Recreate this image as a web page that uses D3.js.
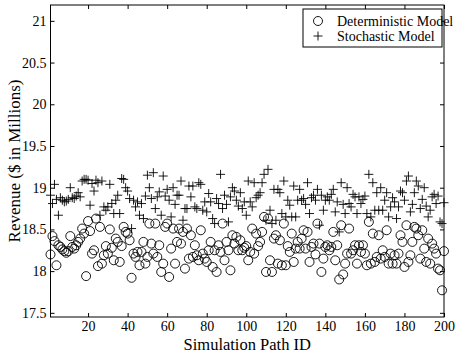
<!DOCTYPE html>
<html>
<head>
<meta charset="utf-8">
<script src="https://cdn.jsdelivr.net/npm/d3@7"></script>
<style>
  body { margin: 0; background: #fff; }
  svg text { font-family: "Liberation Serif", "Times New Roman", Times, "DejaVu Serif", serif; fill: #000; }
</style>
</head>
<body>
<svg id="chart" width="456" height="354"></svg>
<script>
// revenue per simulation path, $ in millions (path ID = index + 1)
const deterministic = [
  18.20, 18.42, 18.36, 18.07, 18.31, 18.29, 18.26, 18.24, 18.22, 18.24,
  18.42, 18.29, 18.27, 18.31, 18.35, 18.39, 18.51, 18.45, 17.94, 18.60,
  18.48, 18.21, 18.25, 18.63, 18.06, 18.53, 18.09, 18.19, 18.30, 18.21,
  18.50, 18.28, 18.13, 18.39, 18.35, 18.11, 18.30, 18.53, 18.47, 18.45,
  18.37, 17.92, 18.21, 18.17, 18.23, 18.07, 18.23, 18.35, 18.09, 18.17,
  18.57, 18.33, 18.21, 18.57, 18.17, 18.31, 17.99, 18.09, 18.53, 18.57,
  17.93, 18.27, 18.51, 18.09, 18.35, 18.51, 18.33, 18.47, 18.03, 18.51,
  18.15, 18.43, 18.17, 18.31, 18.19, 18.13, 18.49, 18.21, 18.15, 18.11,
  18.25, 18.35, 18.05, 18.25, 17.99, 18.31, 18.23, 18.57, 18.13, 18.35,
  18.25, 18.01, 18.43, 18.33, 18.41, 18.25, 18.37, 18.25, 18.28, 18.30,
  18.13, 18.23, 18.51, 18.21, 18.45, 18.30, 18.35, 18.47, 18.65, 17.99,
  18.63, 18.13, 17.99, 18.39, 18.43, 18.09, 18.37, 18.07, 18.57, 18.07,
  18.30, 18.23, 18.45, 18.11, 18.27, 18.35, 18.27, 18.39, 18.49, 18.27,
  18.47, 18.11, 18.29, 18.33, 18.20, 18.57, 18.33, 17.99, 18.15, 18.29,
  18.31, 18.25, 18.29, 18.47, 18.13, 18.31, 17.90, 18.55, 17.96, 18.09,
  18.21, 18.51, 18.21, 18.25, 18.31, 18.09, 18.31, 18.23, 18.31, 18.21,
  18.07, 18.59, 18.09, 18.45, 18.11, 18.17, 18.43, 18.15, 18.25, 18.17,
  18.49, 18.09, 18.21, 18.09, 18.19, 18.09, 18.21, 18.43, 18.35, 18.05,
  18.55, 18.11, 18.19, 18.35, 18.53, 18.51, 18.43, 18.15, 18.49, 18.27,
  18.11, 18.39, 18.09, 18.33, 18.27, 18.21, 18.03, 18.01, 17.77, 18.24
];

const stochastic = [
  18.91, 18.81, 19.04, 18.86, 18.67, 18.88, 18.85, 18.83, 18.84, 18.86,
  19.00, 18.88, 18.87, 18.90, 18.94, 18.89, 19.08, 19.10, 19.10, 19.09,
  18.79, 19.05, 18.96, 19.09, 19.06, 18.67, 19.08, 18.77, 18.73, 18.77,
  19.04, 18.81, 18.69, 18.85, 18.91, 18.69, 19.11, 19.10, 19.00, 18.96,
  18.87, 18.51, 18.85, 18.77, 18.83, 18.67, 18.81, 18.63, 18.90, 19.15,
  19.00, 18.87, 19.18, 18.75, 18.89, 18.95, 18.67, 19.14, 18.90, 18.98,
  18.85, 18.65, 19.00, 18.80, 18.91, 18.91, 19.08, 18.61, 18.75, 18.75,
  19.02, 18.89, 19.02, 18.77, 18.75, 19.06, 19.04, 18.73, 18.83, 18.71,
  18.93, 18.83, 18.63, 18.57, 18.87, 18.81, 19.16, 18.75, 18.91, 18.80,
  18.59, 18.89, 19.00, 18.96, 18.85, 18.78, 18.94, 18.75, 18.83, 18.67,
  19.08, 18.83, 18.77, 19.06, 18.88, 18.91, 18.94, 19.06, 19.16, 18.61,
  19.22, 18.73, 18.57, 18.98, 18.61, 18.98, 18.94, 18.69, 19.08, 18.65,
  18.85, 18.79, 18.65, 19.02, 18.65, 18.85, 18.98, 18.85, 18.87, 18.80,
  19.06, 18.69, 18.88, 18.91, 18.85, 18.98, 18.55, 18.91, 18.73, 18.85,
  18.89, 18.85, 18.92, 18.98, 18.71, 18.83, 18.47, 19.06, 18.80, 18.69,
  19.00, 18.81, 18.77, 18.92, 18.89, 18.69, 18.89, 18.81, 18.86, 18.90,
  18.69, 19.16, 18.65, 19.06, 18.73, 18.94, 18.73, 19.00, 18.73, 18.85,
  18.94, 18.65, 18.77, 18.88, 18.83, 18.63, 18.77, 18.96, 18.94, 18.85,
  19.08, 19.14, 18.71, 18.80, 18.94, 19.08, 19.02, 18.75, 18.86, 19.00,
  18.78, 18.65, 18.73, 18.89, 18.92, 18.81, 18.90, 18.59, 18.57, 18.82
];

const xTicks = [20, 40, 60, 80, 100, 120, 140, 160, 180, 200];
const yTicks = [17.5, 18, 18.5, 19, 19.5, 20, 20.5, 21];
const seriesNames = ["Deterministic Model", "Stochastic Model"];

const serif = '"Liberation Serif", "Times New Roman", Times, "DejaVu Serif", serif';
const svg = d3.select("#chart");
const box = { left: 50.5, right: 444, top: 5, bottom: 317 };

const x = d3.scaleLinear().domain([1, 200]).range([box.left, box.right]);
const y = d3.scaleLinear().domain([17.45, 21.19]).range([box.bottom, box.top]);

const styleAxis = g => {
  g.attr("font-family", null).attr("font-size", null);
  g.select(".domain").remove();
  g.selectAll("line").attr("stroke", "#000");
  g.selectAll("text").style("font-size", "14px").style("font-family", serif);
};

svg.append("g").attr("transform", `translate(0,${box.bottom})`)
  .call(d3.axisBottom(x).tickValues(xTicks).tickSizeInner(-4).tickSizeOuter(0).tickPadding(4))
  .call(styleAxis);
svg.append("g").attr("transform", `translate(0,${box.top})`)
  .call(d3.axisTop(x).tickValues(xTicks).tickSizeInner(-4).tickSizeOuter(0).tickFormat(""))
  .call(styleAxis);
svg.append("g").attr("transform", `translate(${box.left},0)`)
  .call(d3.axisLeft(y).tickValues(yTicks).tickSizeInner(-4).tickSizeOuter(0).tickPadding(4).tickFormat(d3.format("")))
  .call(styleAxis);
svg.append("g").attr("transform", `translate(${box.right},0)`)
  .call(d3.axisRight(y).tickValues(yTicks).tickSizeInner(-4).tickSizeOuter(0).tickFormat(""))
  .call(styleAxis);

svg.append("rect")
  .attr("x", box.left).attr("y", box.top)
  .attr("width", box.right - box.left).attr("height", box.bottom - box.top)
  .attr("fill", "none").attr("stroke", "#000").attr("stroke-width", 1);

const plot = svg.append("g");

plot.selectAll("circle.det")
  .data(deterministic)
  .enter()
  .append("circle")
  .attr("class", "det")
  .attr("cx", (d, i) => x(i + 1))
  .attr("cy", d => y(d))
  .attr("r", 4.5)
  .attr("fill", "none")
  .attr("stroke", "#000")
  .attr("stroke-width", 0.9);

const plusPath = "M-4.5,0H4.5M0,-4.5V4.5";
plot.selectAll("path.sto")
  .data(stochastic)
  .enter()
  .append("path")
  .attr("class", "sto")
  .attr("d", plusPath)
  .attr("transform", (d, i) => `translate(${x(i + 1)},${y(d)})`)
  .attr("fill", "none")
  .attr("stroke", "#000")
  .attr("stroke-width", 0.9);

// axis titles
svg.append("text")
  .attr("x", (box.left + box.right) / 2).attr("y", 350)
  .attr("text-anchor", "middle")
  .style("font-family", serif)
  .style("font-size", "16.5px")
  .text("Simulation Path ID");

svg.append("text")
  .attr("transform", `translate(20,${(box.top + box.bottom) / 2}) rotate(-90)`)
  .attr("text-anchor", "middle")
  .style("font-family", serif)
  .style("font-size", "17px")
  .text("Revenue ($ in Millions)");

// legend
const legend = svg.append("g").attr("transform", "translate(303,9)");
legend.append("rect")
  .attr("width", 139).attr("height", 38)
  .attr("fill", "#fff").attr("stroke", "#000");

legend.append("circle")
  .attr("cx", 15).attr("cy", 12).attr("r", 4.5)
  .attr("fill", "none").attr("stroke", "#000").attr("stroke-width", 0.9);
legend.append("path")
  .attr("d", plusPath)
  .attr("transform", "translate(15,27)")
  .attr("fill", "none").attr("stroke", "#000").attr("stroke-width", 0.9);

legend.selectAll("text.lab")
  .data(seriesNames)
  .enter()
  .append("text")
  .attr("class", "lab")
  .attr("x", 34)
  .attr("y", (d, i) => 16.5 + i * 15)
  .style("font-family", serif)
  .style("font-size", "14px")
  .text(d => d);
</script>
</body>
</html>
